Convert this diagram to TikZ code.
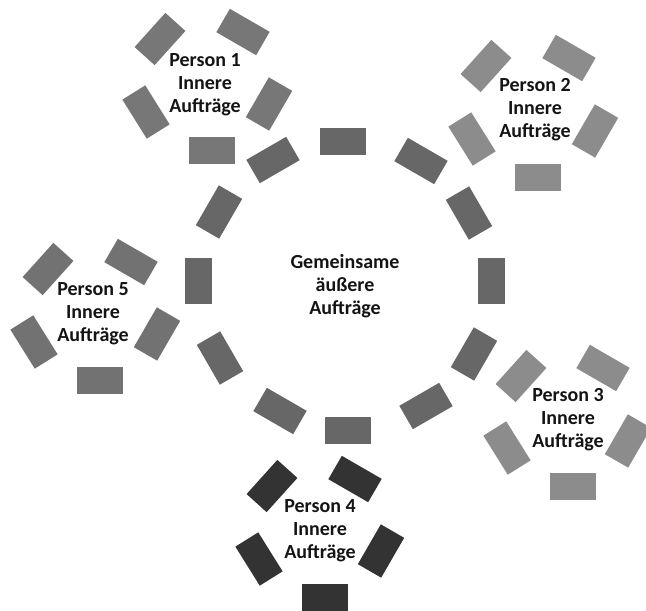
\documentclass[tikz,border=0pt]{standalone}
\usepackage{fontspec}
\setmainfont{Carlito}
\definecolor{ringc}{HTML}{676767}
\definecolor{pa}{HTML}{777777}
\definecolor{pb}{HTML}{8C8C8C}
\definecolor{pc}{HTML}{8C8C8C}
\definecolor{pd}{HTML}{333333}
\definecolor{pe}{HTML}{727272}
\tikzset{
  blk/.style={rectangle, minimum width=46pt, minimum height=27pt, inner sep=0pt, draw=none},
  lab/.style={font=\fontsize{20}{23}\selectfont\bfseries, align=center, text=black!92}
}
\begin{document}
\begin{tikzpicture}[x=1pt,y=-1pt]
\useasboundingbox (0,0) rectangle (646,611);
% ring
\node[blk, fill=ringc, rotate=0]   (r1)  at (343,141) {};
\node[blk, fill=ringc, rotate=150] (r2)  at (421,161) {};
\node[blk, fill=ringc, rotate=120] (r3)  at (469,213) {};
\node[blk, fill=ringc, rotate=90]  (r4)  at (491,281) {};
\node[blk, fill=ringc, rotate=60]  (r5)  at (474,354) {};
\node[blk, fill=ringc, rotate=30]  (r6)  at (426,406) {};
\node[blk, fill=ringc, rotate=0]   (r7)  at (348,430) {};
\node[blk, fill=ringc, rotate=-30] (r8)  at (280,411) {};
\node[blk, fill=ringc, rotate=-60] (r9)  at (220,358) {};
\node[blk, fill=ringc, rotate=90]  (r10) at (198,281) {};
\node[blk, fill=ringc, rotate=60]  (r11) at (219,212) {};
\node[blk, fill=ringc, rotate=30]  (r12) at (273,160) {};
\node[lab] (tc) at (345,286) {Gemeinsame\\äußere\\Aufträge};
% Person 1
\node[blk, fill=pa, rotate=0]   (a1) at (212,150) {};
\node[blk, fill=pa, rotate=60]  (a2) at (269,104) {};
\node[blk, fill=pa, rotate=-30] (a3) at (243,32) {};
\node[blk, fill=pa, rotate=48]  (a4) at (160,39) {};
\node[blk, fill=pa, rotate=-58] (a5) at (146,112) {};
\node[lab] (t1) at (205,85) {Person 1\\Innere\\Aufträge};
% Person 2
\node[blk, fill=pb, rotate=0]   (b1) at (538,177) {};
\node[blk, fill=pb, rotate=60]  (b2) at (595,131) {};
\node[blk, fill=pb, rotate=-30] (b3) at (569,58) {};
\node[blk, fill=pb, rotate=48]  (b4) at (486,66) {};
\node[blk, fill=pb, rotate=-58] (b5) at (472,139) {};
\node[lab] (t2) at (535,110) {Person 2\\Innere\\Aufträge};
% Person 3
\node[blk, fill=pc, rotate=0]   (c1) at (573,486) {};
\node[blk, fill=pc, rotate=60]  (c2) at (628,441) {};
\node[blk, fill=pc, rotate=-30] (c3) at (603,368) {};
\node[blk, fill=pc, rotate=48]  (c4) at (521,376) {};
\node[blk, fill=pc, rotate=-58] (c5) at (507,448) {};
\node[lab] (t3) at (568,420) {Person 3\\Innere\\Aufträge};
% Person 4
\node[blk, fill=pd, rotate=0]   (d1) at (325,597) {};
\node[blk, fill=pd, rotate=60]  (d2) at (381,551) {};
\node[blk, fill=pd, rotate=-30] (d3) at (355,479) {};
\node[blk, fill=pd, rotate=48]  (d4) at (272,486) {};
\node[blk, fill=pd, rotate=-58] (d5) at (259,559) {};
\node[lab] (t4) at (320,531) {Person 4\\Innere\\Aufträge};
% Person 5
\node[blk, fill=pe, rotate=0]   (e1) at (100,380) {};
\node[blk, fill=pe, rotate=60]  (e2) at (157,334) {};
\node[blk, fill=pe, rotate=-30] (e3) at (131,262) {};
\node[blk, fill=pe, rotate=48]  (e4) at (48,269) {};
\node[blk, fill=pe, rotate=-58] (e5) at (34,342) {};
\node[lab] (t5) at (93,314) {Person 5\\Innere\\Aufträge};
\end{tikzpicture}
\end{document}
